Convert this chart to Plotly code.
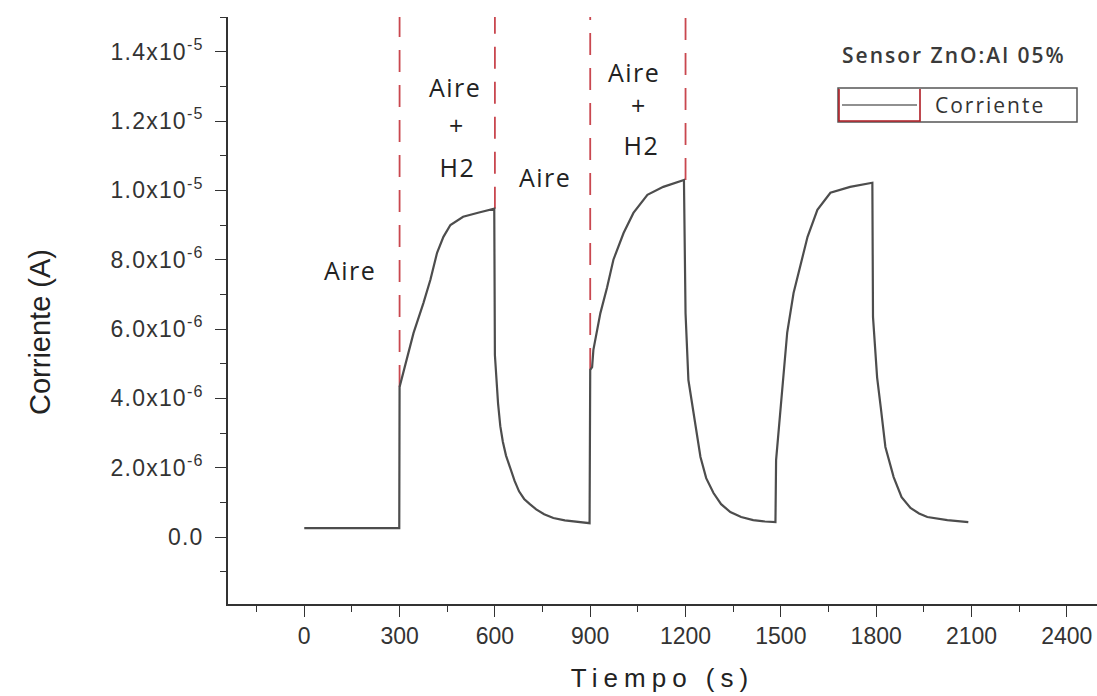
import plotly.graph_objects as go

# Sensor response: time (s) and current (A, in units of 1e-6)
tiempo = [0, 299, 300, 320, 344, 375, 397, 418, 438, 460, 500, 550, 598,
          600, 604, 610, 617, 625, 635, 648, 662, 676, 692, 710, 730, 755, 784, 820, 860, 898,
          900, 906, 910, 932, 953, 973, 1005, 1036, 1080, 1130, 1195,
          1197, 1200, 1209, 1225, 1247, 1265, 1288, 1312, 1341, 1375, 1413, 1450, 1483,
          1485, 1500, 1520, 1540, 1561, 1584, 1615, 1656, 1718, 1788,
          1790, 1803, 1815, 1829, 1855, 1880, 1908, 1935, 1961, 2024, 2090]
corriente_u = [0.26, 0.26, 4.33, 5.04, 5.89, 6.75, 7.42, 8.20, 8.66, 9.00, 9.24, 9.36, 9.47,
               5.25, 4.60, 3.85, 3.20, 2.75, 2.35, 2.00, 1.62, 1.32, 1.10, 0.95, 0.80, 0.66, 0.55, 0.48, 0.43, 0.40,
               4.82, 4.90, 5.40, 6.46, 7.20, 8.00, 8.77, 9.35, 9.87, 10.10, 10.30,
               8.50, 6.46, 4.53, 3.58, 2.31, 1.70, 1.27, 0.95, 0.72, 0.58, 0.49, 0.45, 0.43,
               2.22, 3.90, 5.90, 7.04, 7.80, 8.66, 9.44, 9.93, 10.10, 10.22,
               6.35, 4.60, 3.70, 2.60, 1.73, 1.15, 0.84, 0.68, 0.58, 0.49, 0.43]
corriente = [v * 1e-6 for v in corriente_u]

# Gas switching instants (s) and the current reached at each switch (A)
cambios_t = [300, 600, 900, 1200]
cambios_i = [4.33e-6, 9.47e-6, 4.82e-6, 10.30e-6]

# Axis ticks
x_ticks = [0, 300, 600, 900, 1200, 1500, 1800, 2100, 2400]
y_ticks = [0, 2e-6, 4e-6, 6e-6, 8e-6, 1.0e-5, 1.2e-5, 1.4e-5]
y_labels = ["0.0", "2.0x10<sup>-6</sup>", "4.0x10<sup>-6</sup>", "6.0x10<sup>-6</sup>",
            "8.0x10<sup>-6</sup>", "1.0x10<sup>-5</sup>", "1.2x10<sup>-5</sup>",
            "1.4x10<sup>-5</sup>"]

# Phase labels: (time, current, text)
fases = [(145, 7.7e-6, "Aire"),
         (475, 12.99e-6, "Aire"), (478, 11.89e-6, "+"), (483, 10.68e-6, "H2"),
         (759, 10.39e-6, "Aire"),
         (1039, 13.42e-6, "Aire"), (1050, 12.47e-6, "+"), (1060, 11.31e-6, "H2")]

X_RANGE = [-240, 2495]
Y_RANGE = [-1.93e-6, 1.5e-5]

W, H = 1097, 696
ML, MR, MT, MB = 228, 0, 17, 92

fig = go.Figure()

fig.add_trace(go.Scatter(
    x=tiempo, y=corriente, mode="lines", name="Corriente",
    line=dict(color="#4d4d4d", width=2.2), showlegend=False,
))

for t, i in zip(cambios_t, cambios_i):
    fig.add_shape(type="line", xref="x", yref="y", x0=t, x1=t, y0=i, y1=Y_RANGE[1],
                  line=dict(color="#c9474f", width=1.8, dash="22px,13px"), layer="below")

for t, v, txt in fases:
    fig.add_annotation(x=t, y=v, xref="x", yref="y", text=txt, showarrow=False,
                       font=dict(family="Open Sans", size=25, color="#222"))

# Helpers to place items in page pixels
pw, ph = W - ML - MR, H - MT - MB
def px(x):
    return (x - ML) / pw
def py(y):
    return (H - MB - y) / ph

# Y-axis title
fig.add_annotation(x=px(40), y=py(332), xref="paper", yref="paper",
                   xanchor="center", yanchor="middle", textangle=-90,
                   text="Corriente (A)", showarrow=False,
                   font=dict(family="Liberation Sans", size=29, color="#222"))

# Legend box with title
fig.add_annotation(x=px(840), y=py(55), xref="paper", yref="paper",
                   xanchor="left", yanchor="middle", align="left",
                   text="Sensor ZnO:Al 05%", showarrow=False,
                   font=dict(family="Open Sans", size=21, color="#3a3a3a", weight=600))
fig.add_shape(type="rect", xref="paper", yref="paper",
              x0=px(838), x1=px(1077), y0=py(122), y1=py(88),
              line=dict(color="#555", width=1.5), fillcolor="white")
fig.add_shape(type="path", xref="paper", yref="paper",
              path=(f"M {px(839)},{py(89)} L {px(839)},{py(121)} "
                    f"L {px(920)},{py(121)} L {px(920)},{py(89)}"),
              line=dict(color="#b01c24", width=1.6))
fig.add_shape(type="line", xref="paper", yref="paper",
              x0=px(842), x1=px(917), y0=py(105), y1=py(105),
              line=dict(color="#222", width=1.2))
fig.add_annotation(x=px(933), y=py(105), xref="paper", yref="paper",
                   xanchor="left", yanchor="middle", align="left",
                   text="Corriente", showarrow=False,
                   font=dict(family="Open Sans", size=21, color="#333"))

axis_common = dict(showline=True, linecolor="#333", linewidth=1.6, ticks="outside",
                   tickcolor="#333", tickwidth=1.4, ticklen=11, showgrid=False,
                   zeroline=False, mirror=False)

fig.update_xaxes(range=X_RANGE, tickvals=x_ticks, ticktext=[str(v) for v in x_ticks],
                 tickfont=dict(family="Liberation Sans", size=23, color="#333"),
                 title=dict(text="Tiempo (s)", standoff=20,
                            font=dict(family="Liberation Sans", size=26, color="#222")),
                 minor=dict(ticks="outside", tick0=-150, dtick=300, ticklen=6,
                            tickcolor="#333", tickwidth=1.2),
                 **axis_common)
fig.update_yaxes(range=Y_RANGE, tickvals=y_ticks, ticktext=y_labels,
                 tickfont=dict(family="Liberation Sans", size=23, color="#333"),
                 ticklabelstandoff=7,
                 minor=dict(ticks="outside", tick0=-1e-6, dtick=2e-6, ticklen=6,
                            tickcolor="#333", tickwidth=1.2),
                 **axis_common)

fig.update_layout(width=W, height=H, margin=dict(l=ML, r=MR, t=MT, b=MB),
                  plot_bgcolor="white", paper_bgcolor="white", showlegend=False)

# Wider letter spacing on some texts
spacing_js = """
var gd = document.getElementById('{plot_id}');
function espaciar() {
  gd.querySelectorAll('.xtitle').forEach(function (e) { e.style.letterSpacing = '6px'; });
  gd.querySelectorAll('.ytick text').forEach(function (e) { e.style.letterSpacing = '1.2px'; });
  gd.querySelectorAll('.annotation-text').forEach(function (e) {
    var s = e.textContent;
    if (s === 'Sensor ZnO:Al 05%') { e.style.letterSpacing = '2px'; }
    if (s === 'Corriente') { e.style.letterSpacing = '2px'; }
    if (s === 'Aire' || s === 'H2') { e.style.letterSpacing = '1.5px'; }
  });
}
espaciar();
gd.on('plotly_afterplot', espaciar);
"""

fig.write_html("out.html", post_script=spacing_js)
